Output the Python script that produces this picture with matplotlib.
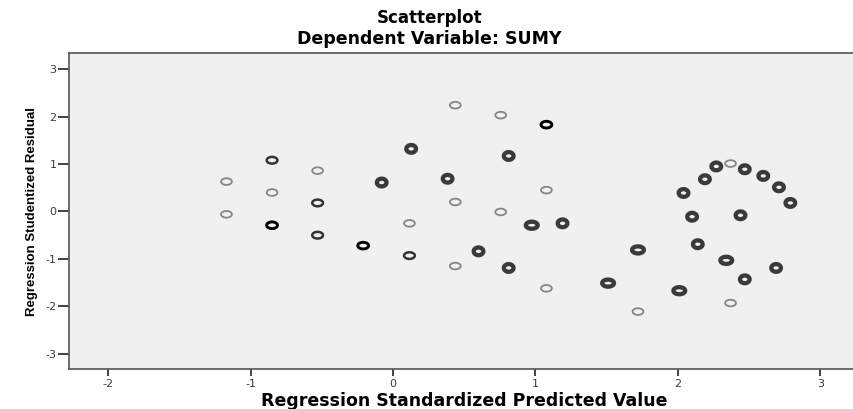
import numpy as np
import matplotlib
matplotlib.use("Agg")
import matplotlib.pyplot as plt
from matplotlib.path import Path

plt.rcParams['axes.unicode_minus'] = False

# points
# kind: l = light ring, d = dark ring, k = black ring, b = heavy ring, w = heavy wide ring
pred = [-1.17, -1.17, -0.85, -0.85, -0.85, -0.53, -0.53, -0.53, -0.21,
        -0.08, 0.127, 0.115, 0.115, 0.383, 0.437, 0.437, 0.437,
        0.756, 0.756, 0.812, 0.812, 0.60, 0.974, 1.077, 1.077, 1.077,
        1.19, 1.51, 1.72, 1.72,
        2.01, 2.04, 2.10, 2.14, 2.19, 2.27, 2.37, 2.34, 2.44, 2.47,
        2.47, 2.60, 2.69, 2.71, 2.79, 2.37]
resid = [0.63, -0.06, 1.08, 0.40, -0.29, 0.86, 0.18, -0.50, -0.72,
         0.61, 1.32, -0.25, -0.93, 0.69, 2.24, 0.20, -1.15,
         2.03, -0.01, 1.17, -1.19, -0.84, -0.29, 1.83, 0.45, -1.62,
         -0.25, -1.51, -0.81, -2.11,
         -1.67, 0.39, -0.11, -0.69, 0.68, 0.95, 1.01, -1.03, -0.08, 0.89,
         -1.43, 0.75, -1.19, 0.51, 0.18, -1.93]
kind = ['l', 'l', 'd', 'l', 'k', 'l', 'd', 'd', 'k',
        'b', 'b', 'l', 'd', 'b', 'l', 'l', 'l',
        'l', 'l', 'b', 'b', 'b', 'w', 'k', 'l', 'l',
        'b', 'w', 'w', 'l',
        'w', 'b', 'b', 'b', 'b', 'b', 'l', 'w', 'b', 'b',
        'b', 'b', 'b', 'b', 'b', 'l']

xticks = [-2, -1, 0, 1, 2, 3]
yticks = [-3, -2, -1, 0, 1, 2, 3]


def ring(aspect):
    t = np.linspace(0, 2 * np.pi, 60)
    return Path(np.column_stack([np.cos(t), aspect * np.sin(t)]), closed=True)


styles = {
    'l': dict(marker=ring(0.62), s=60, edgecolors='#858585', linewidths=1.3),
    'd': dict(marker=ring(0.62), s=60, edgecolors='#333333', linewidths=1.8),
    'k': dict(marker=ring(0.62), s=60, edgecolors='#000000', linewidths=2.1),
    'b': dict(marker=ring(0.8), s=48, edgecolors='#3a3a3a', linewidths=3.1),
    'w': dict(marker=ring(0.6), s=72, edgecolors='#3a3a3a', linewidths=3.1),
}

fig = plt.figure(figsize=(8.54, 4.09), dpi=100)
ax = fig.add_axes([0.0808, 0.0978, 0.9192, 0.7726])
ax.set_facecolor('#f0f0f0')

pred = np.array(pred)
resid = np.array(resid)
kind = np.array(kind)
for k, st in styles.items():
    m = kind == k
    ax.scatter(pred[m], resid[m], facecolors='none', zorder=3, **st)

ax.set_xlim(-2.276, 3.237)
ax.set_ylim(-3.32, 3.34)
ax.set_xticks(xticks)
ax.set_yticks(yticks)
ax.tick_params(axis='both', direction='out', colors='#222222', labelcolor='#3a3a3a',
               labelsize=8, width=1.2)
ax.tick_params(axis='y', length=8, pad=1)
ax.tick_params(axis='x', length=5, pad=2)
for side in ['left', 'bottom', 'top']:
    ax.spines[side].set_color('#555555')
    ax.spines[side].set_linewidth(1.2)
ax.spines['right'].set_visible(False)

ax.set_xlabel('Regression Standardized Predicted Value', fontsize=12.5,
              fontweight='bold', family='DejaVu Sans')
ax.xaxis.label.set_va('baseline')
ax.xaxis.set_label_coords(0.503, -0.117)
ax.set_ylabel('Regression Studentized Residual', fontsize=9.5, fontweight='bold',
              family=['Liberation Sans', 'DejaVu Sans'])
ax.yaxis.label.set_va('center')
ax.yaxis.set_label_coords(-0.047, 0.5)

fig.text(0.503, 0.9445, 'Scatterplot', ha='center', va='baseline', fontsize=12,
         fontweight='bold', family='DejaVu Sans')
fig.text(0.503, 0.8917, 'Dependent Variable: SUMY', ha='center', va='baseline',
         fontsize=12.5, fontweight='bold', family='DejaVu Sans')

fig.savefig('out.png', dpi=100)
